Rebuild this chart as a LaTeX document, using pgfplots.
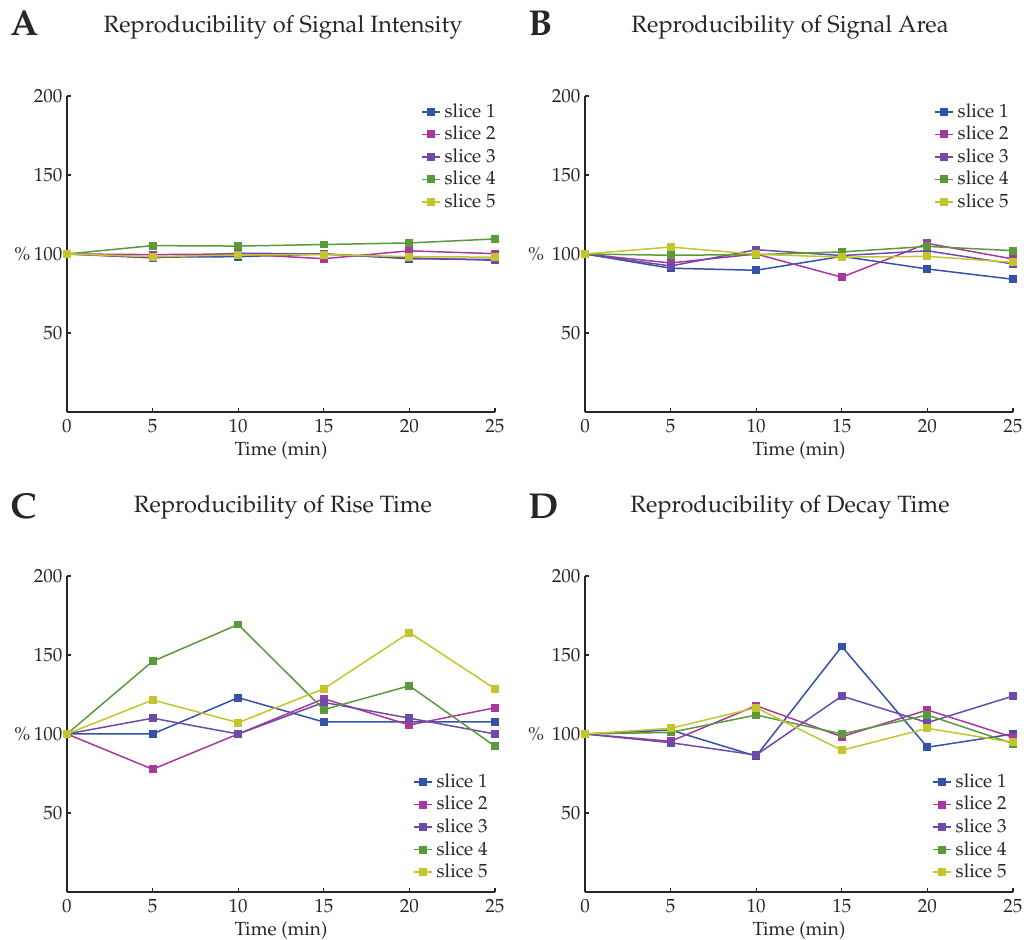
\documentclass[border=0pt]{standalone}
\usepackage[T1]{fontenc}
\usepackage{mathpazo}
\usepackage{pgfplots}
\pgfplotsset{compat=1.18}
\definecolor{c1}{RGB}{52,82,168}
\definecolor{c2}{RGB}{168,56,158}
\definecolor{c3}{RGB}{108,76,168}
\definecolor{c4}{RGB}{90,154,58}
\definecolor{c5}{RGB}{196,196,44}
\tikzset{letter/.style={font=\bfseries\fontsize{18}{20}\selectfont, anchor=base west, inner sep=0pt, xshift=-28.5pt, text=black!85}}
\pgfplotsset{
 panel/.style={
  scale only axis, width=214pt, height=158pt,
  xmin=0,xmax=25,ymin=0,ymax=200,
  xtick={0,5,10,15,20,25}, ytick={50,100,150,200},
  axis x line*=bottom, axis y line*=left,
  axis line style={-, line width=0.55pt, black!85},
  tick align=inside, major tick length=2pt, tick style={black!85, line width=0.55pt},
  xlabel={Time (min)}, ylabel={\%},
  ylabel style={at={(axis description cs:0,0.5)}, anchor=center, rotate=-90},
  tick label style={font=\fontsize{9.5}{11}\selectfont, text=black!85},
  yticklabel style={xshift=1.2pt},
  label style={font=\fontsize{9.5}{11}\selectfont, text=black!85},
  xlabel style={yshift=2.5pt},
  title style={font=\fontsize{11.8}{14}\selectfont, text=black!85, at={(0.5,1)}, anchor=base, yshift=25.5pt},
  legend style={draw=none, fill=none, font=\fontsize{9.5}{11.25}\selectfont, text=black!85, row sep=-1.1pt},
  legend cell align=left,
  legend image code/.code={\draw[mark repeat=2,mark phase=2] plot coordinates {(0pt,0pt) (4.5pt,0pt) (9pt,0pt)};},
  clip=false,
  every axis plot/.append style={line width=0.75pt, mark=square*, mark size=1.6pt, mark options={solid}},
  cycle list={{c1},{c2},{c3},{c4},{c5}},
 },
}
\begin{document}
\begin{tikzpicture}
\path[use as bounding box] (-33.5pt,-24pt) rectangle (478.5pt,446pt);
% A
\begin{axis}[panel, at={(0pt,240pt)}, anchor=south west,
  title={Reproducibility of Signal Intensity},
  title style={xshift=1pt},
  ylabel style={xshift=-22.3pt},
  legend style={at={(1,1)}, anchor=north east, yshift=0.5pt, xshift=5.5pt}]
\addplot coordinates {(0,100) (5,98) (10,98.3) (15,100) (20,97) (25,96.5)};
\addplot coordinates {(0,100) (5,99.6) (10,100) (15,97) (20,102) (25,100.2)};
\addplot coordinates {(0,100) (5,97.5) (10,100.5) (15,100) (20,97.5) (25,96)};
\addplot coordinates {(0,100) (5,105.3) (10,105) (15,106) (20,107) (25,109.5)};
\addplot coordinates {(0,100) (5,98.3) (10,99.4) (15,99.6) (20,98.3) (25,98)};
\legend{slice 1,slice 2,slice 3,slice 4,slice 5}
\node[letter, yshift=30pt] at (rel axis cs:0,1) {A};
\end{axis}
% B
\begin{axis}[panel, at={(259pt,240pt)}, anchor=south west,
  title={Reproducibility of Signal Area},
  title style={xshift=-4.5pt},
  ylabel style={xshift=-24.5pt},
  legend style={at={(1,1)}, anchor=north east, yshift=0.5pt, xshift=3pt}]
\addplot coordinates {(0,100) (5,91) (10,89.7) (15,98.5) (20,90.5) (25,84)};
\addplot coordinates {(0,100) (5,94.3) (10,100) (15,85.3) (20,106.7) (25,96.8)};
\addplot coordinates {(0,100) (5,92.4) (10,102.7) (15,99) (20,102) (25,93.7)};
\addplot coordinates {(0,100) (5,99.2) (10,99.6) (15,101.3) (20,104.8) (25,102.1)};
\addplot coordinates {(0,100) (5,104.4) (10,99.8) (15,98) (20,98.5) (25,94.7)};
\legend{slice 1,slice 2,slice 3,slice 4,slice 5}
\node[letter, yshift=30pt] at (rel axis cs:0,1) {B};
\end{axis}
% C
\begin{axis}[panel, at={(0pt,0pt)}, anchor=south west,
  title={Reproducibility of Rise Time},
  title style={xshift=1pt},
  ylabel style={xshift=-22.3pt},
  legend style={at={(1,0)}, anchor=south east, yshift=1.5pt, xshift=1.5pt}]
\addplot coordinates {(0,100) (5,100) (10,123) (15,107.6) (20,107.6) (25,107.6)};
\addplot coordinates {(0,100) (5,77.7) (10,100) (15,122.3) (20,105.7) (25,116.6)};
\addplot coordinates {(0,100) (5,110) (10,100) (15,120) (20,110) (25,100)};
\addplot coordinates {(0,100) (5,146) (10,169.3) (15,115.4) (20,130.5) (25,92.2)};
\addplot coordinates {(0,100) (5,121.5) (10,107.2) (15,128.6) (20,164.2) (25,128.6)};
\legend{slice 1,slice 2,slice 3,slice 4,slice 5}
\node[letter, yshift=28.5pt] at (rel axis cs:0,1) {C};
\end{axis}
% D
\begin{axis}[panel, at={(259pt,0pt)}, anchor=south west,
  title={Reproducibility of Decay Time},
  title style={xshift=-4.5pt},
  ylabel style={xshift=-24.5pt},
  legend style={at={(1,0)}, anchor=south east, yshift=1.5pt, xshift=2pt}]
\addplot coordinates {(0,100) (5,102.5) (10,86) (15,155.4) (20,91.6) (25,100)};
\addplot coordinates {(0,100) (5,95.4) (10,117.9) (15,98.3) (20,115.2) (25,97.9)};
\addplot coordinates {(0,100) (5,94.5) (10,86.7) (15,124) (20,107.2) (25,124)};
\addplot coordinates {(0,100) (5,101) (10,112) (15,100) (20,112) (25,93.9)};
\addplot coordinates {(0,100) (5,103.6) (10,116.6) (15,89.7) (20,103.6) (25,94.7)};
\legend{slice 1,slice 2,slice 3,slice 4,slice 5}
\node[letter, yshift=28.5pt] at (rel axis cs:0,1) {D};
\end{axis}
\end{tikzpicture}
\end{document}
